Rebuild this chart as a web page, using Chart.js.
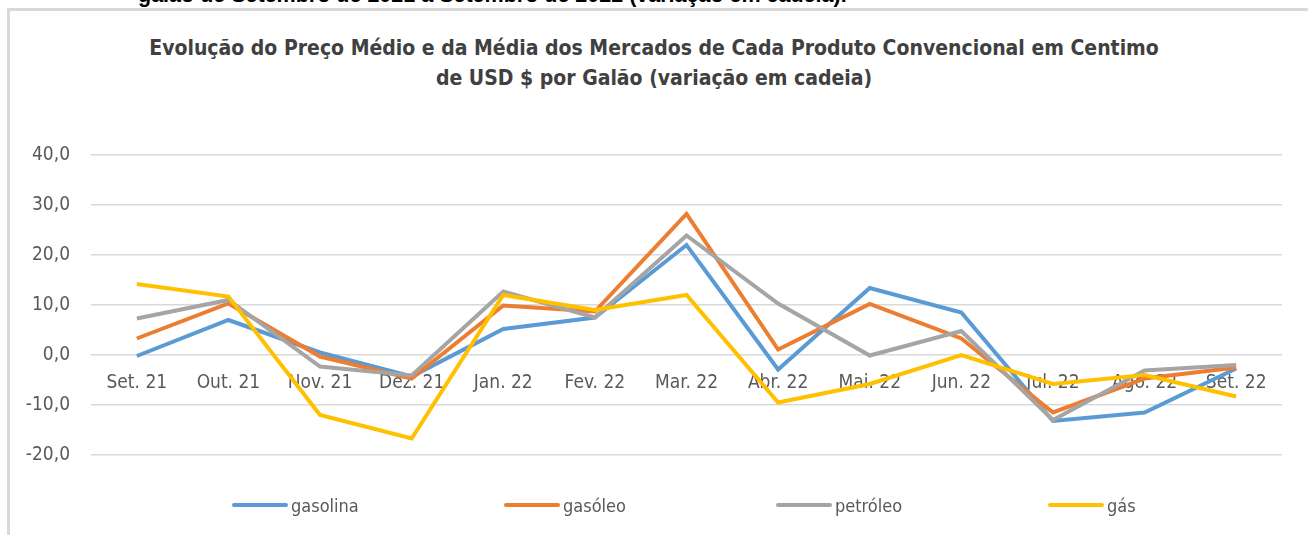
<!DOCTYPE html>
<html>
<head>
<meta charset="utf-8">
<script src="https://cdn.jsdelivr.net/npm/chart.js@4/dist/chart.umd.min.js"></script>
<style>
  html, body { margin: 0; padding: 0; background: #fff; overflow: hidden; }
  body { width: 1308px; height: 535px; position: relative; overflow: hidden; font-family: 'DejaVu Sans Condensed', 'Liberation Sans', sans-serif; }
  #topnote { position: absolute; left: 138px; top: -15px; font-family: 'Liberation Sans', Arial, sans-serif; font-weight: bold; font-size: 21.5px; line-height: 21.5px; color: #000; white-space: nowrap; }
  #frame { position: absolute; left: 7px; top: 8px; width: 1301px; height: 527px; border-top: 3px solid #d9d9d9; border-left: 3px solid #d9d9d9; box-sizing: border-box; }
  #title { position: absolute; left: 0; width: 1308px; top: 33px; text-align: center; font-weight: bold; font-size: 21px; line-height: 30px; color: #404040; }
  #wrap { position: absolute; left: 0; top: 0; width: 1308px; height: 535px; }
  #legend { position: absolute; top: 494px; left: 232px; display: flex; }
  .item { width: 272px; display: flex; align-items: center; height: 22px; }
  .swatch { width: 56px; height: 4px; border-radius: 2px; margin-right: 3px; }
  .lbl { font-size: 18px; color: #595959; }
</style>
</head>
<body>
<div id="topnote">galão de Setembro de 2021 a Setembro de 2022 (variação em cadeia).</div>
<div id="frame"></div>
<div id="title">Evolução do Preço Médio e da Média dos Mercados de Cada Produto Convencional em Centimo<br>de USD $ por Galão (variação em cadeia)</div>
<div id="wrap"><canvas id="c" width="1308" height="535"></canvas></div>
<div id="legend"></div>
<script>
const categories = ['Set. 21','Out. 21','Nov. 21','Dez. 21','Jan. 22','Fev. 22','Mar. 22','Abr. 22','Mai. 22','Jun. 22','Jul. 22','Ago. 22','Set. 22'];
const gasolina = [-0.2, 7.0, 0.5, -4.3, 5.2, 7.5, 22.0, -2.9, 13.4, 8.5, -13.2, -11.5, -2.7];
const gasoleo  = [3.3, 10.3, -0.3, -4.7, 9.9, 8.7, 28.2, 1.1, 10.2, 3.3, -11.5, -4.7, -2.5];
const petroleo = [7.3, 11.0, -2.3, -4.1, 12.7, 7.5, 23.9, 10.3, -0.1, 4.8, -13.0, -3.1, -2.0];
const gas      = [14.2, 11.7, -12.0, -16.7, 12.0, 9.0, 12.0, -9.5, -5.8, 0.0, -5.8, -4.0, -8.3];
const seriesNames = ['gasolina','gasóleo','petróleo','gás'];
const seriesColors = ['#5B9BD5','#ED7D31','#A5A5A5','#FFC000'];
const yTicks = [-20, -10, 0, 10, 20, 30, 40];

const FONT = "'DejaVu Sans Condensed', 'Liberation Sans', sans-serif";
const allData = [gasolina, gasoleo, petroleo, gas];

const datasets = allData.map((d, i) => ({
  label: seriesNames[i],
  data: d,
  borderColor: seriesColors[i],
  backgroundColor: seriesColors[i],
  borderWidth: 4,
  pointRadius: 0,
  tension: 0,
  fill: false,
  order: 4 - i
}));

new Chart(document.getElementById('c'), {
  type: 'line',
  data: { labels: categories, datasets },
  options: {
    responsive: false,
    animation: false,
    layout: { padding: { left: 0, right: 26, top: 155, bottom: 80 } },
    plugins: { legend: { display: false }, tooltip: { enabled: false }, title: { display: false } },
    scales: {
      x: {
        position: { y: 0 },
        offset: true,
        grid: { display: false, drawTicks: false },
        border: { display: false },
        ticks: { font: { family: FONT, size: 19 }, color: '#595959', padding: 17, maxRotation: 0, autoSkip: false }
      },
      y: {
        min: -20, max: 40,
        afterFit: s => { s.width = 91; },
        afterBuildTicks: s => { s.ticks = yTicks.map(v => ({ value: v })); },
        grid: { color: '#d9d9d9', lineWidth: 1.5, drawTicks: false },
        border: { display: false },
        ticks: { font: { family: FONT, size: 19 }, color: '#595959', padding: 21,
          callback: v => v.toFixed(1).replace('.', ',') }
      }
    }
  }
});

const leg = document.getElementById('legend');
seriesNames.forEach((n, i) => {
  const it = document.createElement('div'); it.className = 'item';
  const sw = document.createElement('div'); sw.className = 'swatch'; sw.style.background = seriesColors[i];
  const lb = document.createElement('span'); lb.className = 'lbl'; lb.textContent = n;
  it.appendChild(sw); it.appendChild(lb); leg.appendChild(it);
});
</script>
</body>
</html>
